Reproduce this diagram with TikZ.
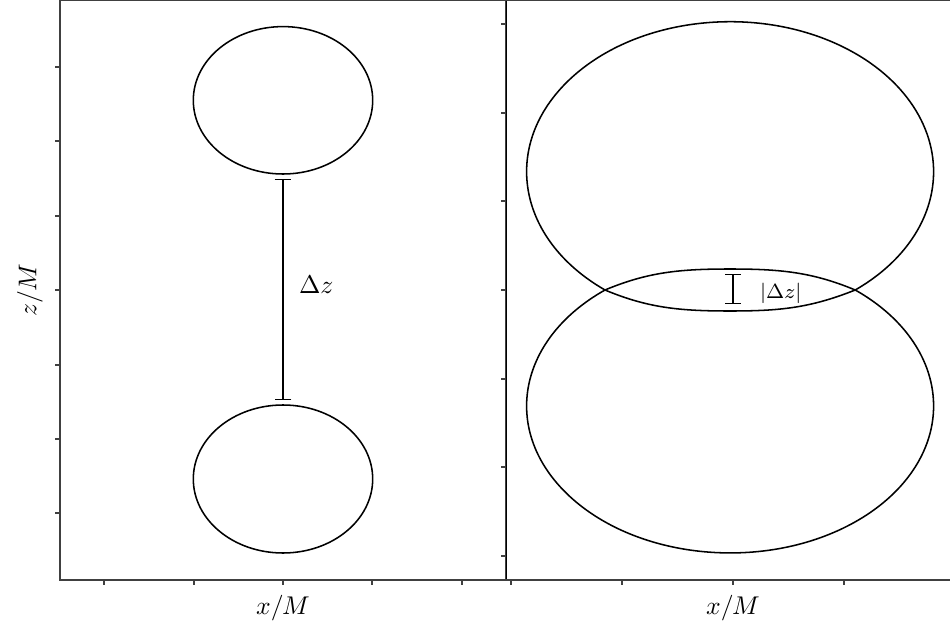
\documentclass[tikz,border=0pt]{standalone}
\usepackage{amsmath, amssymb}
\usepackage{tikz}
\usetikzlibrary{
  positioning,
  arrows.meta,
  calc
}

\begin{document}
\begin{tikzpicture}[
  x=0.39pt, y=0.39pt,
  font=\normalsize,
  every node/.style={inner sep=1pt},
  spine/.style={black!75, line width=0.4pt},
  orbit/.style={black, line width=0.6pt},
  errbar/.style={black, line width=0.4pt, {Bar[width=6.6pt]}-{Bar[width=6.6pt]}}
]
  \useasboundingbox (0,0) rectangle (950,627);
  % left panel
  \draw[spine] (60,47) rectangle (505.5,626.5);
  \foreach \x in {104,194,283,372,462}
    \draw[spine] (\x,47) -- (\x,42);
  \foreach \y in {560,486,411,337,262,188,114}
    \draw[spine] (60,\y) -- (55,\y);
  \draw[orbit] (283,526.7) ellipse [x radius=89.7, y radius=73.7];
  \draw[orbit] (283,148) ellipse [x radius=89.7, y radius=74];
  \coordinate (gapTop) at (283,448);
  \coordinate (gapBot) at (283,227);
  \draw[errbar] (gapTop) -- (gapBot);
  \node[right] (gapLab) at (296,342) {$\Delta z$};
  \node (xlabL) at (283,19) {$x/M$};
  \node[rotate=90] (zlab) at (30,337) {$z/M$};
  % right panel
  \draw[black, line width=0.4pt] (506.5,47) -- (506.5,626.5);
  \draw[spine] (506.5,626.5) -- (950,626.5);
  \draw[spine] (506.5,47) -- (950,47);
  \foreach \x in {511,622,733,844}
    \draw[spine] (\x,47) -- (\x,42);
  \foreach \y in {603,514,426,337,248,160,71}
    \draw[spine] (506.5,\y) -- (501.5,\y);
  \draw[orbit] (605,337) arc [start angle=232.06, end angle=-52.06,
      x radius=203.5, y radius=150]
    .. controls (810,319) and (780,316) .. (730,316)
    .. controls (680,316) and (648,319) .. (605,337) -- cycle;
  \draw[orbit] (605,337) arc [start angle=127.94, end angle=412.06,
      x radius=203.5, y radius=147]
    .. controls (812,355) and (780,358) .. (730,358)
    .. controls (680,358) and (648,355) .. (605,337) -- cycle;
  \coordinate (overTop) at (733,353);
  \coordinate (overBot) at (733,323);
  \draw[black, line width=0.4pt, {Bar[width=6.2pt]}-{Bar[width=6.2pt]}] (overTop) -- (overBot);
  \node[right, font=\footnotesize] (overLab) at (757,334) {$|\Delta z|$};
  \node (xlabR) at (733,19) {$x/M$};
\end{tikzpicture}
\end{document}
